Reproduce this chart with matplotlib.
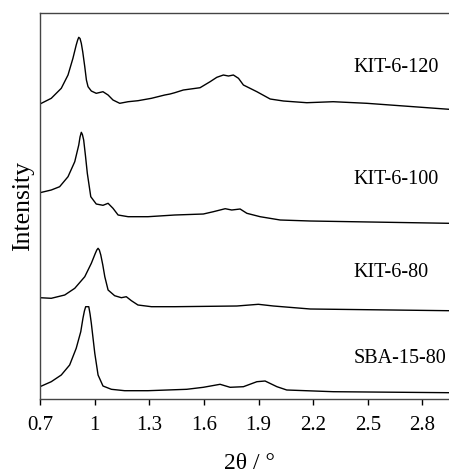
import matplotlib
matplotlib.use('Agg')
from matplotlib import pyplot as plt
import numpy as np

plt.rcParams['font.family'] = ['Liberation Serif', 'DejaVu Serif']

# 2theta (deg) and intensity (a.u., relative to each trace's own baseline)
tt_120 = [0.700, 0.762, 0.817, 0.854, 0.881, 0.899, 0.907, 0.913, 0.920, 0.927,
          0.935, 0.946, 0.955, 0.964, 0.982, 1.009, 1.046, 1.074, 1.101, 1.138,
          1.184, 1.238, 1.312, 1.385, 1.414, 1.440, 1.487, 1.579, 1.634, 1.671,
          1.707, 1.735, 1.762, 1.790, 1.817, 1.891, 1.964, 2.037, 2.165, 2.310,
          2.495, 2.947, 3.000]
int_120 = [6.0, 11.7, 21.7, 35.0, 51.7, 65.0, 70.0, 72.7, 71.5, 66.7,
           58.0, 43.3, 30.0, 23.3, 19.0, 16.7, 18.3, 15.0, 10.0, 6.7,
           8.3, 9.3, 11.7, 15.0, 16.0, 17.3, 20.0, 22.3, 28.3, 32.7,
           35.0, 34.0, 35.0, 31.7, 25.0, 18.3, 11.0, 9.0, 7.3, 8.3,
           6.7, 0.7, 0.5]

tt_100 = [0.700, 0.762, 0.808, 0.854, 0.891, 0.913, 0.920, 0.927, 0.933, 0.940,
          0.950, 0.960, 0.979, 1.009, 1.046, 1.074, 1.101, 1.129, 1.184, 1.293,
          1.440, 1.597, 1.652, 1.717, 1.753, 1.799, 1.836, 1.909, 2.019, 2.184,
          2.513, 2.947, 3.000]
int_100 = [31.3, 34.0, 37.3, 47.3, 62.3, 79.0, 87.0, 91.7, 89.5, 84.0,
           68.0, 50.7, 27.3, 20.0, 18.7, 20.7, 15.7, 9.0, 7.3, 7.3,
           9.0, 10.0, 12.3, 15.3, 14.0, 15.0, 10.7, 7.3, 4.0, 3.0,
           2.0, 0.7, 0.5]

tt_80 = [0.700, 0.762, 0.836, 0.891, 0.946, 0.982, 1.004, 1.012, 1.019, 1.026,
         1.034, 1.045, 1.056, 1.074, 1.110, 1.147, 1.174, 1.202, 1.238, 1.312,
         1.440, 1.781, 1.899, 1.982, 2.184, 2.947, 3.000]
int_80 = [13.3, 12.7, 16.0, 22.7, 34.3, 47.7, 57.7, 61.0, 62.7, 61.0,
          56.0, 46.0, 34.3, 21.0, 15.3, 13.3, 14.3, 10.3, 6.0, 4.3,
          4.3, 5.0, 6.7, 5.0, 2.0, 0.3, 0.2]

tt_sba = [0.700, 0.762, 0.817, 0.863, 0.899, 0.924, 0.936, 0.944, 0.951, 0.968,
          0.975, 0.982, 1.001, 1.019, 1.046, 1.092, 1.165, 1.293, 1.506, 1.597,
          1.689, 1.744, 1.817, 1.891, 1.936, 2.001, 2.055, 2.310, 2.947, 3.000]
int_sba = [7.3, 12.3, 19.0, 29.0, 45.7, 62.3, 75.7, 83.0, 87.3, 87.3,
           80.0, 70.7, 40.7, 19.0, 8.0, 4.7, 3.3, 3.3, 4.7, 6.7,
           9.7, 6.7, 7.3, 12.3, 13.0, 7.3, 4.0, 2.3, 1.3, 1.2]

names = ['KIT-6-120', 'KIT-6-100', 'KIT-6-80', 'SBA-15-80']
offsets = [289, 175, 88, 5]
label_y = [332, 220, 127, 41]
xticks = [0.7, 1, 1.3, 1.6, 1.9, 2.2, 2.5, 2.8]
xtick_labels = ['0.7', '1', '1.3', '1.6', '1.9', '2.2', '2.5', '2.8']

fig = plt.figure(figsize=(4.49, 4.75), dpi=100)
ax = fig.add_axes([0.089, 0.16, 0.933, 0.8126])

traces = [(tt_120, int_120), (tt_100, int_100), (tt_80, int_80), (tt_sba, int_sba)]
for (tt, inten), off, name, ly in zip(traces, offsets, names, label_y):
    ax.plot(tt, np.array(inten) + off, color='black', linewidth=1.0)
    ax.text(2.42, ly, name, fontsize=14.5, va='center', ha='left')

ax.set_xlim(0.7, 3.0)
ax.set_ylim(0, 386)
ax.set_xticks(xticks)
ax.set_xticklabels(xtick_labels)
ax.set_yticks([])
ax.tick_params(axis='x', direction='out', length=4, width=1, labelsize=15, pad=8)
for s in ax.spines.values():
    s.set_color('#444444')
    s.set_linewidth(1.0)
ax.set_xlabel('2θ / °', fontsize=17, labelpad=13)
ax.set_ylabel('Intensity', fontsize=18.5, labelpad=4)

plt.savefig('out.png', dpi=100)
